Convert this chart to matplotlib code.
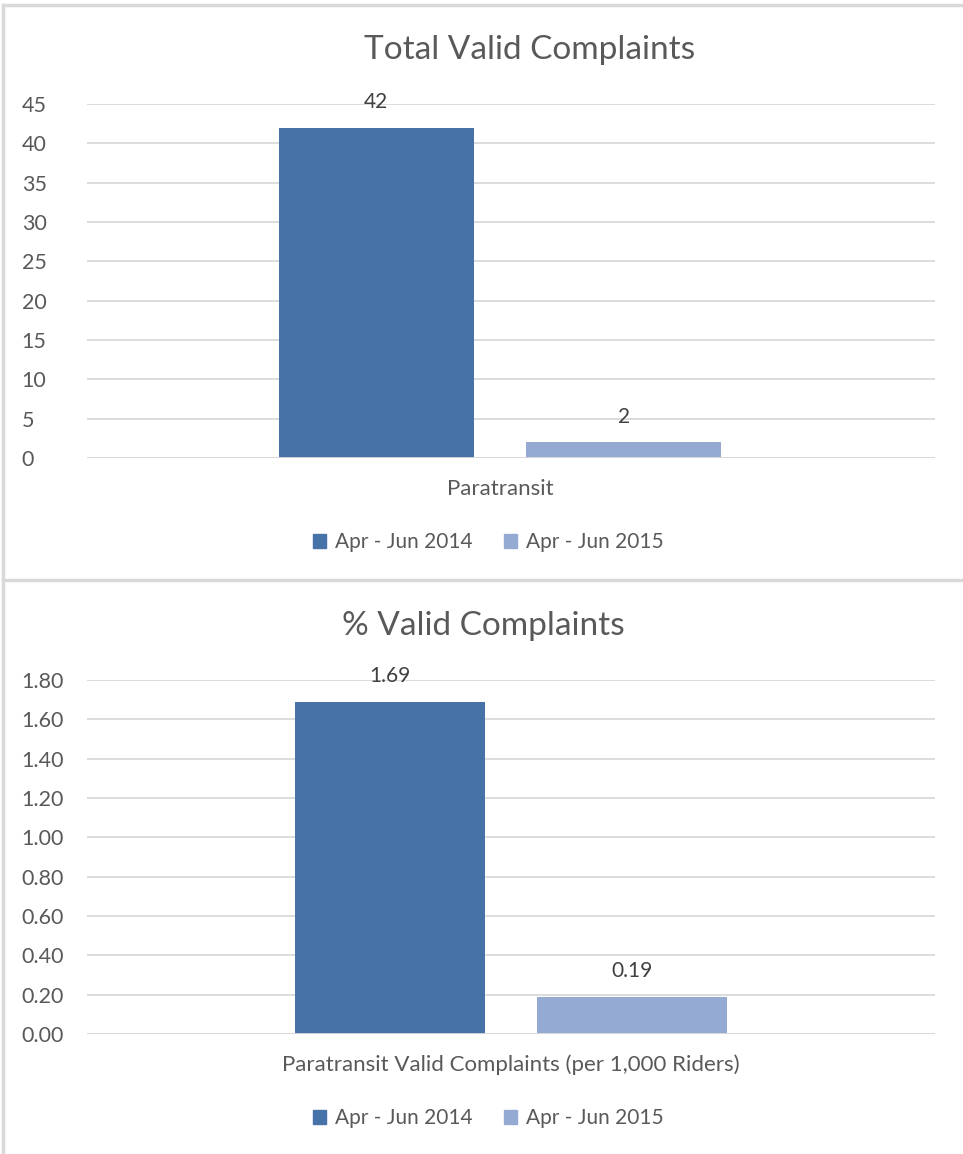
import matplotlib.pyplot as plt
from matplotlib.lines import Line2D
from matplotlib.patches import Patch

plt.rcParams['font.family'] = ['Lato', 'DejaVu Sans']

series = ["Apr - Jun 2014", "Apr - Jun 2015"]
colors = ["#4672A7", "#94AAD2"]

total_cat = "Paratransit"
total_vals = [42, 2]
total_ticks = [0, 5, 10, 15, 20, 25, 30, 35, 40, 45]

pct_cat = "Paratransit Valid Complaints (per 1,000 Riders)"
pct_vals = [1.69, 0.19]
pct_ticks = [0.0, 0.2, 0.4, 0.6, 0.8, 1.0, 1.2, 1.4, 1.6, 1.8]

W, H = 963, 1154
fig = plt.figure(figsize=(W / 100, H / 100), dpi=100)
txt = "#595959"
grid = "#d9d9d9"


def px_axes(left, right, top, bottom):
    return fig.add_axes([left / W, 1 - bottom / H, (right - left) / W, (bottom - top) / H])


def draw(ax, vals, ticks, cat, fmt, offset, width, xlim):
    for i, (v, c) in enumerate(zip(vals, colors)):
        x = offset * (1 if i else -1)
        ax.bar(x, v, width=width, color=c, zorder=3)
        ax.annotate(fmt.format(v), (x, v), xytext=(0, 11), textcoords="offset points",
                    ha="center", va="bottom", fontsize=15, color="#404040")
    ax.set_ylim(ticks[0], ticks[-1])
    ax.set_xlim(*xlim)
    ax.set_yticks(ticks)
    ax.set_yticklabels([fmt.format(t) for t in ticks])
    ax.set_xticks([0])
    ax.set_xticklabels([cat])
    ax.grid(axis="y", color=grid, linewidth=1.3, zorder=0)
    for s in ax.spines.values():
        s.set_visible(False)
    ax.tick_params(length=0, colors=txt)
    ax.tick_params(axis="y", pad=47, labelsize=15.5)
    ax.tick_params(axis="x", pad=15, labelsize=16)
    for lbl in ax.get_yticklabels():
        lbl.set_horizontalalignment("left")


ax1 = px_axes(87, 935, 104, 458)
draw(ax1, total_vals, total_ticks, total_cat, "{:.0f}", 0.146, 0.23, (-0.487, 0.513))
ax1.axhline(0, color=grid, linewidth=1.3, zorder=4)

ax2 = px_axes(87, 935, 680, 1034)
draw(ax2, pct_vals, pct_ticks, pct_cat, "{:.2f}", 0.143, 0.224, (-0.5, 0.5))
ax2.axhline(0, color=grid, linewidth=1.3, zorder=4)

fig.text(530 / W, 1 - 50 / H, "Total Valid Complaints", ha="center", va="center",
         fontsize=24, color=txt)
fig.text(483 / W, 1 - 626 / H, "% Valid Complaints", ha="center", va="center",
         fontsize=24, color=txt)

handles = [Patch(color=c, label=s) for s, c in zip(series, colors)]
for y in (542, 1118):
    fig.legend(handles=handles, loc="center", bbox_to_anchor=(488 / W, 1 - y / H),
               ncol=2, frameon=False, fontsize=15, labelcolor=txt,
               handlelength=0.65, handleheight=0.65, handletextpad=0.4, columnspacing=1.5)

# chart borders
for xs, ys in [((3, 3), (5, H)), ((3, W), (5, 5)), ((3, W), (580, 580))]:
    fig.add_artist(Line2D([x / W for x in xs], [1 - y / H for y in ys],
                          color=grid, linewidth=2.5))

fig.savefig("out.png", dpi=100)
